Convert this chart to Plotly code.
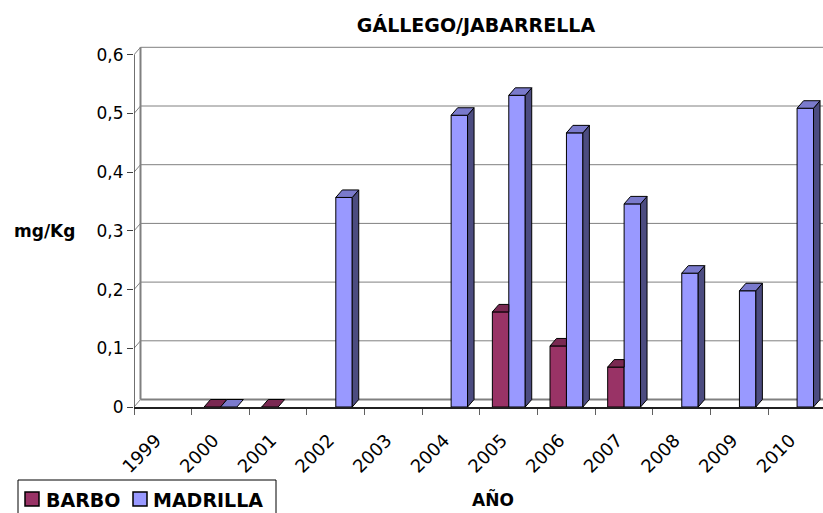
import plotly.graph_objects as go

# ---------------- data ----------------
years = ["1999", "2000", "2001", "2002", "2003", "2004",
         "2005", "2006", "2007", "2008", "2009", "2010"]
barbo = [None, 0, 0, None, None, None, 0.162, 0.104, 0.068, None, None, None]
madrilla = [None, 0, None, 0.357, None, 0.497, 0.531, 0.467, 0.346, 0.228, 0.198, 0.509]
y_ticks = [0, 0.1, 0.2, 0.3, 0.4, 0.5, 0.6]
y_tick_labels = ["0", "0,1", "0,2", "0,3", "0,4", "0,5", "0,6"]
series_names = ["BARBO", "MADRILLA"]

# ---------------- layout constants ----------------
W, H = 823, 513
ML, MR, MT, MB = 134, 0, 40, 106
plot_w = W - ML - MR
plot_h = H - MT - MB
PX_CAT = 57.66          # pixels per category
PX_UNIT = 587.0         # pixels per 1.0 on value axis
X0 = -0.5
X1 = X0 + plot_w / PX_CAT
Y0 = 0.0
Y1 = plot_h / PX_UNIT
DX = 6.5 / PX_CAT       # depth offset (data units)
DY = 7.5 / PX_UNIT
BW = 0.285              # bar width (category units)

FONT = "DejaVu Sans"
C_BARBO = "#993366"
C_BARBO_TOP = "#7a2952"
C_BARBO_SIDE = "#5c1f3d"
C_MAD = "#9999ff"
C_MAD_TOP = "#7a7acc"
C_MAD_SIDE = "#4c4c80"
GRID = "#808080"

idx = list(range(len(years)))
off_barbo = -BW / 2
off_mad = BW / 2

fig = go.Figure()
fig.add_bar(x=[i + off_barbo for i in idx], y=barbo, width=BW, name=series_names[0],
            marker=dict(color=C_BARBO, line=dict(color="black", width=1)),
            hoverinfo="skip", showlegend=False)
fig.add_bar(x=[i + off_mad for i in idx], y=madrilla, width=BW, name=series_names[1],
            marker=dict(color=C_MAD, line=dict(color="black", width=1)),
            hoverinfo="skip", showlegend=False)


def faces(vals, centers, other=None):
    sx, sy, tx, ty = [], [], [], []
    for i, v in enumerate(vals):
        if v is None:
            continue
        x0 = centers[i] - BW / 2
        x1 = x0 + BW
        hidden = other is not None and other[i] is not None and other[i] > v
        if v > 0 and not hidden:
            sx += [x1, x1 + DX, x1 + DX, x1, x1, None]
            sy += [0, DY, v + DY, v, 0, None]
        if hidden:
            tx += [x0, x1, x1, x0 + DX, x0, None]
            ty += [v, v, v + DY, v + DY, v, None]
        else:
            tx += [x0, x1, x1 + DX, x0 + DX, x0, None]
            ty += [v, v, v + DY, v + DY, v, None]
    return sx, sy, tx, ty


def add_poly(xs, ys, color):
    if not xs:
        return
    fig.add_scatter(x=xs, y=ys, mode="lines", fill="toself", fillcolor=color,
                    line=dict(color="black", width=1), showlegend=False,
                    hoverinfo="skip")


bsx, bsy, btx, bty = faces(barbo, [i + off_barbo for i in idx], madrilla)
msx, msy, mtx, mty = faces(madrilla, [i + off_mad for i in idx])
add_poly(bsx, bsy, C_BARBO_SIDE)
add_poly(btx, bty, C_BARBO_TOP)
add_poly(msx, msy, C_MAD_SIDE)
add_poly(mtx, mty, C_MAD_TOP)

# ---------------- walls / gridlines (below bars) ----------------
shapes = []
for v in y_ticks:
    shapes.append(dict(type="line", xref="x", yref="y", layer="below",
                       x0=X0 + DX, x1=X1, y0=v + DY, y1=v + DY,
                       line=dict(color=GRID, width=2 if v == 0 else 1)))
    shapes.append(dict(type="line", xref="x", yref="y", layer="below",
                       x0=X0, x1=X0 + DX, y0=v, y1=v + DY,
                       line=dict(color=GRID, width=1)))
shapes.append(dict(type="line", xref="x", yref="y", layer="below",
                   x0=X0 + DX, x1=X0 + DX, y0=DY, y1=y_ticks[-1] + DY,
                   line=dict(color=GRID, width=2)))
shapes.append(dict(type="line", xref="x", yref="y", layer="above",
                   x0=X0, x1=X0, y0=0, y1=y_ticks[-1],
                   line=dict(color="#404040", width=1.5)))


def px_to_paper(px, py):
    return (px - ML) / plot_w, (H - MB - py) / plot_h


# ---------------- manual legend ----------------
lx0, ly0 = px_to_paper(18, 480)
lx1, ly1 = px_to_paper(276, 520)
shapes.append(dict(type="rect", xref="paper", yref="paper", x0=lx0, x1=lx1,
                   y0=ly1, y1=ly0, line=dict(color="black", width=1),
                   fillcolor="white", layer="above"))
legend_items = [(series_names[0], C_BARBO, 25, 44), (series_names[1], C_MAD, 133, 151)]
annotations = []
for name, col, sq_x, tx_x in legend_items:
    a, b = px_to_paper(sq_x, 492)
    c, d = px_to_paper(sq_x + 14, 506)
    shapes.append(dict(type="rect", xref="paper", yref="paper", x0=a, x1=c,
                       y0=d, y1=b, fillcolor=col,
                       line=dict(color="black", width=1.5), layer="above"))
    tx, ty = px_to_paper(tx_x, 499.5)
    annotations.append(dict(text="<b>" + name + "</b>", xref="paper", yref="paper",
                            x=tx, y=ty, showarrow=False, xanchor="left",
                            yanchor="middle",
                            font=dict(family=FONT, size=19, color="black")))

ax_x, ax_y = px_to_paper(45, 231)
ano_x, ano_y = px_to_paper(493, 499)
annotations += [
    dict(text="<b>mg/Kg</b>", xref="paper", yref="paper", x=ax_x, y=ax_y,
         showarrow=False, xanchor="center", yanchor="middle",
         font=dict(family=FONT, size=17, color="black")),
    dict(text="<b>AÑO</b>", xref="paper", yref="paper", x=ano_x, y=ano_y,
         showarrow=False, xanchor="center", yanchor="middle",
         font=dict(family=FONT, size=17, color="black")),
]

fig.update_layout(
    width=W, height=H, autosize=False,
    margin=dict(l=ML, r=MR, t=MT, b=MB),
    paper_bgcolor="white", plot_bgcolor="white",
    barmode="overlay",
    title=dict(text="<b>GÁLLEGO/JABARRELLA</b>", xref="container", yref="container",
               x=476 / W, y=1 - 25 / H, xanchor="center", yanchor="middle",
               font=dict(family=FONT, size=19, color="black")),
    shapes=shapes,
    annotations=annotations,
    xaxis=dict(range=[X0, X1], tickmode="array",
               tickvals=[i - 0.12 for i in idx], ticktext=years,
               tickangle=-45, ticks="", showgrid=False, zeroline=False,
               showline=True, linecolor="#202020", linewidth=1.5,
               ticklabelstandoff=14,
               tickfont=dict(family=FONT, size=18, color="black"),
               minor=dict(tickmode="array",
                          tickvals=[i - 0.5 for i in idx] + [idx[-1] + 0.5],
                          ticks="outside", ticklen=6, tickcolor="#606060",
                          tickwidth=1, showgrid=False)),
    yaxis=dict(range=[Y0, Y1], tickmode="array", tickvals=y_ticks,
               ticktext=y_tick_labels, ticks="outside", ticklen=6,
               tickcolor="#404040", showgrid=False, zeroline=False,
               showline=False,
               tickfont=dict(family=FONT, size=17, color="black")),
    showlegend=False,
)

fig.write_html("out.html", config={"displayModeBar": False},
               post_script="document.body.style.margin='0';document.body.style.padding='0';")
